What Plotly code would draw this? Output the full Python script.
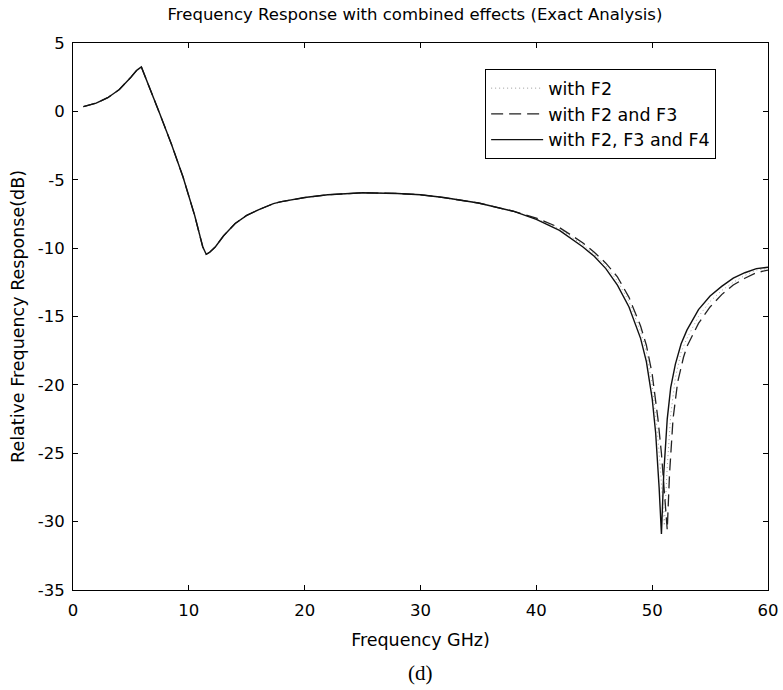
import plotly.graph_objects as go

# Shared low-frequency part (all three curves coincide)
x_common = [0.9, 2, 3, 4, 5, 5.5, 5.9, 6.5, 7.5, 8.5, 9.5, 10.5, 11.2, 11.5, 11.8,
            12.3, 13, 14, 15, 16, 17.3, 18, 20, 22, 25, 28, 30, 32, 35, 38]
y_common = [0.35, 0.6, 1.0, 1.6, 2.5, 3.0, 3.25, 1.9, -0.2, -2.4, -4.8, -7.6, -9.9, -10.45, -10.3,
            -9.9, -9.1, -8.2, -7.6, -7.2, -6.75, -6.6, -6.3, -6.1, -5.95, -6.0, -6.1, -6.3, -6.7, -7.3]

# with F2 (dotted)
x_f2_tail = [40, 42, 44, 45, 46, 47, 48, 49, 49.5, 50, 50.4, 50.7, 51.05, 51.3, 51.6, 52, 52.5,
             53, 54, 55, 56, 57, 58, 59, 60]
y_f2_tail = [-7.85, -8.6, -9.75, -10.45, -11.3, -12.4, -13.9, -16.1, -17.6, -20.0, -23.0, -26.0, -30.3,
             -26.0, -22.2, -19.5, -17.6, -16.6, -15.0, -13.9, -13.1, -12.5, -12.0, -11.6, -11.5]

# with F2 and F3 (dashed)
x_f23_tail = [40, 42, 44, 45, 46, 47, 48, 49, 49.5, 50, 50.5, 50.8, 51.0, 51.3, 51.5, 51.8, 52.2,
              52.7, 53, 54, 55, 56, 57, 58, 59, 60]
y_f23_tail = [-7.8, -8.5, -9.6, -10.3, -11.1, -12.1, -13.6, -15.7, -17.1, -19.2, -22.5, -25.0, -27.5,
              -30.6, -26.5, -22.5, -19.8, -18.0, -17.2, -15.5, -14.3, -13.4, -12.7, -12.2, -11.8, -11.6]

# with F2, F3 and F4 (solid)
x_f234_tail = [40, 42, 44, 45, 46, 47, 48, 49, 49.5, 50, 50.3, 50.6, 50.8, 51.0, 51.3, 51.6, 52,
               52.5, 53, 54, 55, 56, 57, 58, 59, 60]
y_f234_tail = [-7.9, -8.7, -9.9, -10.6, -11.5, -12.7, -14.3, -16.6, -18.3, -21.0, -23.5, -27.5, -30.9,
               -26.5, -22.5, -20.2, -18.5, -17.0, -16.0, -14.5, -13.5, -12.8, -12.2, -11.8, -11.5, -11.4]

series_names = ["with F2", "with F2 and F3", "with F2, F3 and F4"]

x_tick_vals = [0, 10, 20, 30, 40, 50, 60]
y_tick_vals = [5, 0, -5, -10, -15, -20, -25, -30, -35]
y_tick_text = ["5", "0", "-5", "-10", "-15", "-20", "-25", "-30", "-35"]

fig = go.Figure()
fig.add_trace(go.Scatter(x=x_common + x_f2_tail, y=y_common + y_f2_tail, mode="lines",
                         name=series_names[0],
                         line=dict(color="#9a9a9a", width=1, dash="1px,3px")))
fig.add_trace(go.Scatter(x=x_common + x_f23_tail, y=y_common + y_f23_tail, mode="lines",
                         name=series_names[1],
                         line=dict(color="#222222", width=1.3, dash="12px,6px")))
fig.add_trace(go.Scatter(x=x_common + x_f234_tail, y=y_common + y_f234_tail, mode="lines",
                         name=series_names[2],
                         line=dict(color="#111111", width=1.4)))

font_family = "DejaVu Sans, Liberation Sans, Arial, sans-serif"

fig.update_layout(
    width=783, height=690,
    margin=dict(l=73, r=15, t=43, b=100, autoexpand=False),
    paper_bgcolor="white", plot_bgcolor="white",
    font=dict(family=font_family, size=16, color="black"),
    title=dict(text="Frequency Response with combined effects (Exact Analysis)",
               x=0.530, xanchor="center", y=0.980, yanchor="middle",
               font=dict(size=16.5)),
    showlegend=True,
    legend=dict(x=0.593, y=0.952, xanchor="left", yanchor="top",
                bgcolor="white", bordercolor="black", borderwidth=1,
                font=dict(size=17.5), tracegroupgap=0, itemwidth=52),
    xaxis=dict(range=[0, 60], tickvals=x_tick_vals, automargin=False,
               showline=True, linecolor="black", linewidth=1, mirror="ticks",
               ticks="inside", ticklen=5, tickcolor="black", showgrid=False, zeroline=False,
               tickfont=dict(size=16.5), ticklabelstandoff=5,
               title=dict(text="Frequency GHz)", font=dict(size=17.5), standoff=14)),
    yaxis=dict(range=[-35, 5], tickvals=y_tick_vals, ticktext=y_tick_text, automargin=False,
               showline=True, linecolor="black", linewidth=1, mirror="ticks",
               ticks="inside", ticklen=5, tickcolor="black", showgrid=False, zeroline=False,
               tickfont=dict(size=16.5), ticklabelstandoff=4,
               title=dict(text="Relative Frequency Response(dB)", font=dict(size=17.5), standoff=8)),
    annotations=[dict(text="(d)", xref="paper", yref="paper", x=0.50, y=-0.152,
                      xanchor="center", yanchor="middle", showarrow=False,
                      font=dict(family="Liberation Serif, Times New Roman, serif", size=21))],
)

fig.write_html("out.html")
